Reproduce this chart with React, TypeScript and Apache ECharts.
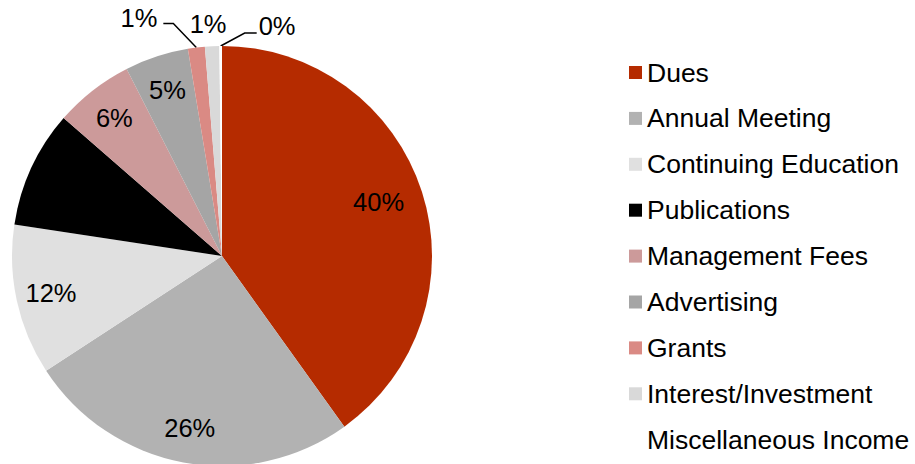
import React, { useEffect, useRef } from "react";
import * as echarts from "echarts";

const categories = [
  "Dues",
  "Annual Meeting",
  "Continuing Education",
  "Publications",
  "Management Fees",
  "Advertising",
  "Grants",
  "Interest/Investment",
  "Miscellaneous Income",
];
const shares = [40.1, 25.7, 11.6, 9.0, 6.1, 4.9, 1.3, 1.1, 0.2];
const colors = [
  "#B52B00",
  "#B2B2B2",
  "#E0E0E0",
  "#000000",
  "#CC9A9A",
  "#A5A5A5",
  "#DA8A84",
  "#D9D9D9",
  "#FFFFFF",
];

const FONT = "'Liberation Sans', Arial, sans-serif";
const CENTER: [number, number] = [222, 256];
const R = 210;

export default function App() {
  const ref = useRef<HTMLDivElement>(null);
  useEffect(() => {
    document.body.style.margin = "0";
    if (!ref.current) return;
    const chart = echarts.init(ref.current, undefined, { renderer: "svg" });

    const mainData = categories.map((name, i) => ({
      name,
      value: shares[i],
      itemStyle: { color: colors[i] },
    }));

    const labelData = categories.map((name, i) => {
      const item: any = { name, value: shares[i] };
      if (i === 3) item.label = { show: false };
      if (i >= 6) {
        item.label = { position: "outside" };
        item.labelLine = { show: i !== 7 };
      }
      return item;
    });

    const labelLayout = (p: any) => {
      const idx = p.dataIndex;
      const pts = p.labelLinePoints;
      if (idx === 0) return { dx: -10 };
      if (idx < 6) return {};
      let x0: number, y0: number;
      if (pts && pts[0]) {
        x0 = pts[0][0];
        y0 = pts[0][1];
      } else {
        const cum = shares.slice(0, idx).reduce((a, b) => a + b, 0) + shares[idx] / 2;
        const total = shares.reduce((a, b) => a + b, 0);
        const ang = (cum / total) * Math.PI * 2;
        x0 = CENTER[0] + R * Math.sin(ang);
        y0 = CENTER[1] - R * Math.cos(ang);
      }
      if (idx === 6) {
        return {
          x: x0 - 39,
          y: y0 - 30,
          align: "right",
          verticalAlign: "middle",
          labelLinePoints: [
            [x0, y0],
            [x0 - 23, y0 - 24],
            [x0 - 33, y0 - 24],
          ],
        };
      }
      if (idx === 7) {
        return { x: x0 - 4, y: y0 - 22, align: "center", verticalAlign: "middle" };
      }
      return {
        x: x0 + 38,
        y: y0 - 20,
        align: "left",
        verticalAlign: "middle",
        labelLinePoints: [
          [x0, y0],
          [x0 + 24, y0 - 13],
          [x0 + 36, y0 - 13],
        ],
      };
    };

    chart.setOption({
      animation: false,
      legend: {
        orient: "vertical",
        left: 629,
        top: 59,
        padding: 0,
        itemWidth: 13,
        itemHeight: 13,
        itemGap: 18.9,
        icon: "rect",
        data: categories,
        selectedMode: false,
        textStyle: { fontSize: 26.5, fontFamily: FONT, color: "#000" },
      },
      series: [
        {
          type: "pie",
          center: CENTER,
          radius: R,
          startAngle: 90,
          clockwise: true,
          silent: true,
          label: { show: false },
          labelLine: { show: false },
          itemStyle: { borderWidth: 0 },
          data: mainData,
        },
        {
          type: "pie",
          center: CENTER,
          radius: [134, R],
          startAngle: 90,
          clockwise: true,
          silent: true,
          legendHoverLink: false,
          percentPrecision: 0,
          avoidLabelOverlap: false,
          itemStyle: { color: "rgba(0,0,0,0)", borderWidth: 0 },
          label: {
            show: true,
            position: "inside",
            formatter: "{d}%",
            fontSize: 25.5,
            fontFamily: FONT,
            color: "#000",
          },
          labelLine: {
            show: true,
            length: 10,
            length2: 10,
            lineStyle: { color: "#000", width: 1.5 },
          },
          labelLayout,
          data: labelData,
        },
      ],
    });
    return () => chart.dispose();
  }, []);
  return <div ref={ref} style={{ width: 915, height: 464 }} />;
}
